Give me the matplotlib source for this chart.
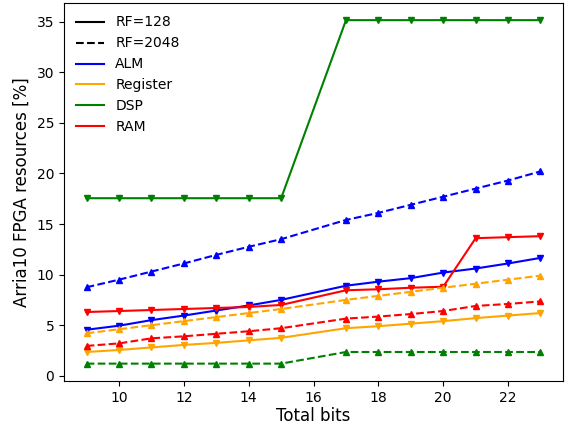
import numpy as np
import matplotlib
matplotlib.use("Agg")
import matplotlib.pyplot as plt
from matplotlib.lines import Line2D

total_bits = [9, 10, 11, 12, 13, 14, 15, 17, 18, 19, 20, 21, 22, 23]

# RF=128 (solid)
alm_128 = [4.55, 4.95, 5.5, 5.95, 6.45, 6.95, 7.5, 8.9, 9.3, 9.65, 10.2, 10.6, 11.1, 11.65]
reg_128 = [2.35, 2.55, 2.8, 3.05, 3.25, 3.5, 3.75, 4.7, 4.9, 5.15, 5.4, 5.7, 5.95, 6.2]
dsp_128 = [17.55, 17.55, 17.55, 17.55, 17.55, 17.55, 17.55, 35.15, 35.15, 35.15, 35.15, 35.15, 35.15, 35.15]
ram_128 = [6.3, 6.4, 6.5, 6.6, 6.7, 6.8, 7.0, 8.45, 8.55, 8.7, 8.8, 13.6, 13.7, 13.8]

# RF=2048 (dashed)
alm_2048 = [8.75, 9.5, 10.3, 11.1, 11.95, 12.75, 13.5, 15.4, 16.1, 16.9, 17.7, 18.5, 19.3, 20.2]
reg_2048 = [4.2, 4.6, 5.0, 5.4, 5.8, 6.2, 6.6, 7.5, 7.9, 8.3, 8.7, 9.1, 9.5, 9.9]
dsp_2048 = [1.2, 1.2, 1.2, 1.2, 1.2, 1.2, 1.2, 2.35, 2.35, 2.35, 2.35, 2.35, 2.35, 2.35]
ram_2048 = [2.95, 3.2, 3.7, 3.9, 4.15, 4.4, 4.7, 5.65, 5.85, 6.1, 6.4, 6.9, 7.1, 7.35]

resources = ["ALM", "Register", "DSP", "RAM"]
colors = ["blue", "orange", "green", "red"]
series_128 = [alm_128, reg_128, dsp_128, ram_128]
series_2048 = [alm_2048, reg_2048, dsp_2048, ram_2048]

fig = plt.figure(figsize=(5.66, 4.25), dpi=100)
ax = fig.add_axes([0.113, 0.104, 0.882, 0.889])

for vals, c in zip(series_128, colors):
    ax.plot(total_bits, vals, color=c, linestyle="-", marker="v", markersize=5)
for vals, c in zip(series_2048, colors):
    ax.plot(total_bits, vals, color=c, linestyle="--", marker="^", markersize=5)

handles = [Line2D([], [], color="black", linestyle="-"),
           Line2D([], [], color="black", linestyle="--")]
labels = ["RF=128", "RF=2048"]
for name, c in zip(resources, colors):
    handles.append(Line2D([], [], color=c))
    labels.append(name)
ax.legend(handles, labels, loc="upper left", frameon=False, fontsize=10)

ax.set_xlabel("Total bits", fontsize=12, labelpad=1.5)
ax.set_ylabel("Arria10 FPGA resources [%]", fontsize=12)
ax.set_xticks([10, 12, 14, 16, 18, 20, 22])

fig.savefig("out.png", dpi=100)
